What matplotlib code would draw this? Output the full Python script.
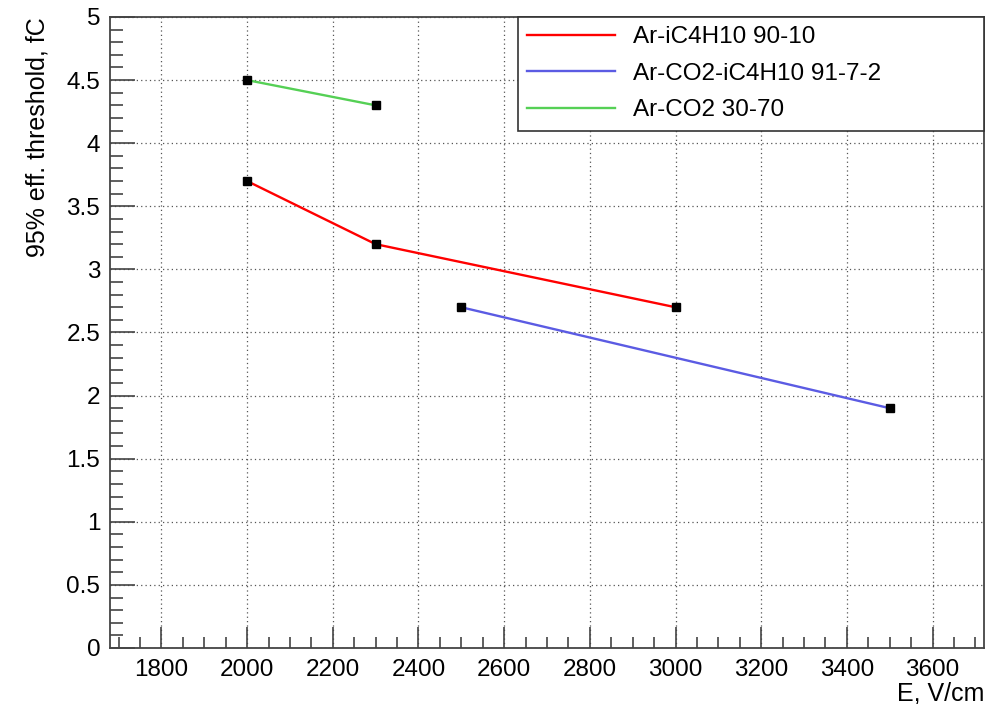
import matplotlib
matplotlib.use('Agg')
import matplotlib.pyplot as plt
from matplotlib.ticker import MultipleLocator

plt.rcParams['font.family'] = ['Liberation Sans', 'DejaVu Sans']

# data
e_iso = [2000, 2300, 3000]
thr_iso = [3.7, 3.2, 2.7]
e_mix = [2500, 3500]
thr_mix = [2.7, 1.9]
e_co2 = [2000, 2300]
thr_co2 = [4.5, 4.3]

labels = ['Ar-iC4H10 90-10', 'Ar-CO2-iC4H10 91-7-2', 'Ar-CO2 30-70']
colors = ['#ff0000', '#5b5be3', '#55d055']

fig = plt.figure(figsize=(9.96, 7.04), dpi=100)
ax = fig.add_axes([110/996, 56/704, 874/996, 631/704])

series = [(e_iso, thr_iso), (e_mix, thr_mix), (e_co2, thr_co2)]
handles = []
for (x, y), lab, c in zip(series, labels, colors):
    h, = ax.plot(x, y, color=c, lw=1.7, label=lab, zorder=3)
    ax.plot(x, y, ls='none', marker='s', ms=6, color='black', zorder=4)
    handles.append(h)

ax.set_xlim(1680, 3720)
ax.set_ylim(0, 5)
ax.xaxis.set_major_locator(MultipleLocator(200))
ax.xaxis.set_minor_locator(MultipleLocator(50))
ax.yaxis.set_major_locator(MultipleLocator(0.5))
ax.yaxis.set_minor_locator(MultipleLocator(0.1))
ax.yaxis.set_major_formatter(plt.FuncFormatter(lambda v, p: f'{v:g}'))

ax.grid(True, which='major', color='#555555', ls=(0, (1, 2.5)), lw=0.9)
ax.tick_params(which='both', direction='in', top=False, right=False,
               labelsize=17.5, color='#444444')
ax.tick_params(axis='y', which='major', length=18, width=1.2, pad=7)
ax.tick_params(axis='y', which='minor', length=9, width=1.2)
ax.tick_params(axis='x', which='major', length=15, width=1.2, pad=8)
ax.tick_params(axis='x', which='minor', length=8, width=1.2)
for s in ax.spines.values():
    s.set_color('#444444')
    s.set_linewidth(1.3)

ax.set_xlabel('E, V/cm', fontsize=18, loc='right', labelpad=0)
ax.set_ylabel('95% eff. threshold, fC', fontsize=18, loc='top', labelpad=12)

leg = ax.legend(handles=handles, loc='upper left',
                bbox_to_anchor=(408/874, 0, 466/874, 1.0), mode='expand',
                fontsize=17.5, frameon=True, fancybox=False, borderpad=0.38,
                handlelength=3.6, handletextpad=0.75, labelspacing=0.6,
                borderaxespad=0, edgecolor='#333333', framealpha=1)
leg.get_frame().set_linewidth(1.2)

fig.savefig('out.png', dpi=100)
